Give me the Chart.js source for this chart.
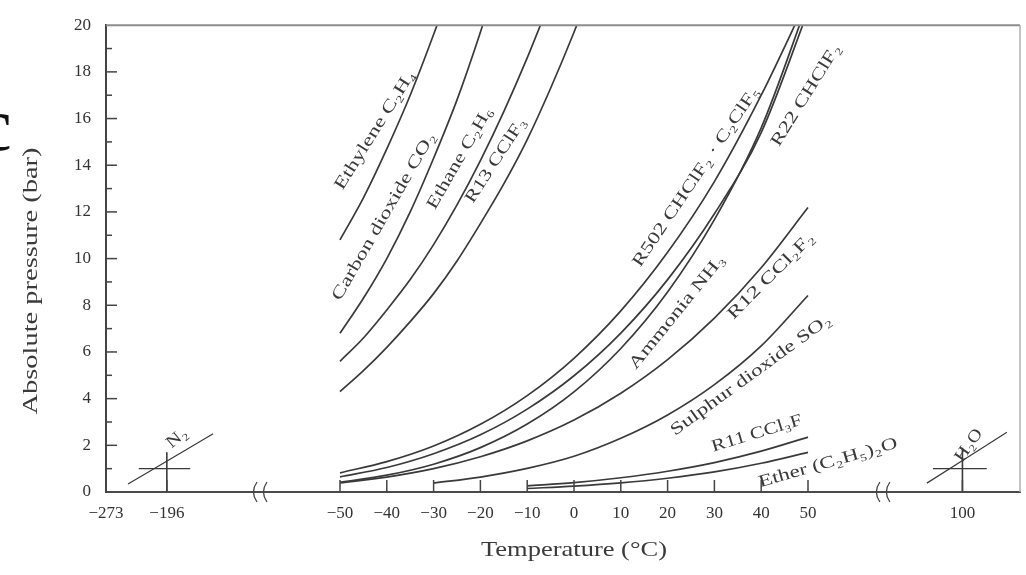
<!DOCTYPE html>
<html>
<head>
<meta charset="utf-8">
<script src="https://cdn.jsdelivr.net/npm/chart.js@4.4.0/dist/chart.umd.min.js"></script>
<style>
  html, body { margin: 0; padding: 0; background: #fff; }
</style>
</head>
<body>
<canvas id="myChart" width="1026" height="575"></canvas>
<script>
// x tick temperatures (deg C) and their labels
const tickTemps = [-273, -196, -50, -40, -30, -20, -10, 0, 10, 20, 30, 40, 50, 100];
const tickLabels = ['\u2212273', '\u2212196', '\u221250', '\u221240', '\u221230', '\u221220', '\u221210', '0', '10', '20', '30', '40', '50', '100'];

// high pressure group, every 5 deg
const ethyleneT = [-50, -45, -40, -35, -30, -25];
const ethyleneP = [10.8, 12.6, 14.7, 17.0, 19.6, 22.4];
const co2T = [-50, -45, -40, -35, -30, -25, -20, -15];
const co2P = [6.8, 8.3, 10.0, 12.0, 14.3, 16.8, 19.7, 22.9];
const ethaneT = [-50, -45, -40, -35, -30, -25, -20, -15, -10, -5];
const ethaneP = [5.6, 6.6, 7.8, 9.1, 10.6, 12.3, 14.2, 16.3, 18.6, 21.1];
const r13T = [-50, -45, -40, -35, -30, -25, -20, -15, -10, -5, 0, 5];
const r13P = [4.3, 5.2, 6.2, 7.3, 8.5, 9.9, 11.5, 13.2, 15.1, 17.3, 19.7, 22.3];

// refrigerants, every 10 deg
const lowT = [-50, -40, -30, -20, -10, 0, 10, 20, 30, 40, 50];
const r502P = [0.82, 1.30, 1.97, 2.90, 4.13, 5.73, 7.76, 10.27, 13.3, 17.0, 21.2];
const r22P = [0.65, 1.05, 1.64, 2.45, 3.55, 4.98, 6.81, 9.10, 11.92, 15.4, 20.6];
const nh3P = [0.41, 0.72, 1.19, 1.90, 2.91, 4.29, 6.15, 8.57, 11.67, 15.6, 21.0];
const r12P = [0.39, 0.64, 1.00, 1.51, 2.19, 3.08, 4.23, 5.67, 7.45, 9.61, 12.19];
const so2T = [-30, -20, -10, 0, 10, 20, 30, 40, 50];
const so2P = [0.38, 0.64, 1.01, 1.53, 2.30, 3.30, 4.60, 6.26, 8.42];
const r11T = [-10, 0, 10, 20, 30, 40, 50];
const r11P = [0.26, 0.40, 0.61, 0.89, 1.26, 1.75, 2.35];
const etherT = [-10, 0, 10, 20, 30, 40, 50];
const etherP = [0.15, 0.25, 0.39, 0.59, 0.86, 1.23, 1.70];

// nitrogen and water marks
const n2T = [-204.3, -186.1];
const n2P = [0.34, 2.5];
const n2CrossT = [-202, -191];
const n2CrossP = [0, 1.7];
const h2oT = [92.4, 109.5];
const h2oP = [0.38, 2.56];
const h2oCrossT = [93.7, 105.2];
const h2oCrossP = [0, 1.9];
const atmP = 1.0;

const curveLabels = [
    { text: 'Ethylene C\u2082H\u2084', t: -42.5, p: 15.5, angle: -58, len: 137 },
    { text: 'Carbon dioxide CO\u2082', t: -40.6, p: 11.8, angle: -60, len: 191 },
    { text: 'Ethane C\u2082H\u2086', t: -24.4, p: 14.3, angle: -60, len: 115 },
    { text: 'R13 CClF\u2083', t: -16.7, p: 14.2, angle: -57, len: 98 },
    { text: 'R502 CHClF\u2082 \u00b7 C\u2082ClF\u2085', t: 26.1, p: 13.5, angle: -56, len: 213 },
    { text: 'R22 CHClF\u2082', t: 49.6, p: 17.0, angle: -58, len: 117 },
    { text: 'Ammonia NH\u2083', t: 22.0, p: 7.7, angle: -51, len: 142 },
    { text: 'R12 CCl\u2082F\u2082', t: 42.1, p: 9.25, angle: -45, len: 115 },
    { text: 'Sulphur dioxide SO\u2082', t: 37.8, p: 5.0, angle: -36, len: 194 },
    { text: 'R11 CCl\u2083F', t: 39.1, p: 2.5, angle: -17, len: 94 },
    { text: 'Ether (C\u2082H\u2085)\u2082O', t: 54.3, p: 1.24, angle: -16, len: 144 },
    { text: 'N\u2082', t: -193.8, p: 2.3, angle: -40, len: 22 },
    { text: 'H\u2082O', t: 101.4, p: 2.0, angle: -55, len: 36 }
];

const serif = "'Liberation Serif', 'DejaVu Serif', serif";
const ink = '#3a3a3a';

// broken axis: -273 sits on the origin, -196 and 100 are pulled in
function toAxis(t) {
    if (t <= -273) return -100;
    if (t < -120) return t + 109;
    if (t > 75) return t - 17;
    return t;
}

function series(ts, ps) {
    return ts.map((t, i) => ({ x: toAxis(t), y: ps[i] }));
}

function curve(ts, ps, width) {
    return {
        data: series(ts, ps),
        showLine: true,
        borderColor: ink,
        borderWidth: width || 1.7,
        pointRadius: 0,
        cubicInterpolationMode: 'monotone',
        fill: false
    };
}

const datasets = [
    curve(ethyleneT, ethyleneP),
    curve(co2T, co2P),
    curve(ethaneT, ethaneP),
    curve(r13T, r13P),
    curve(lowT, r502P),
    curve(lowT, r22P),
    curve(lowT, nh3P),
    curve(lowT, r12P),
    curve(so2T, so2P),
    curve(r11T, r11P),
    curve(etherT, etherP),
    curve(n2T, n2P, 1.2),
    curve(n2CrossT, [atmP, atmP], 1.2),
    curve([-196, -196], n2CrossP, 1.6),
    curve(h2oT, h2oP, 1.2),
    curve(h2oCrossT, [atmP, atmP], 1.2),
    curve([100, 100], h2oCrossP, 1.6)
];

function stretchedText(ctx, text, x, y, angleDeg, size, len) {
    ctx.save();
    ctx.translate(x, y);
    ctx.rotate(angleDeg * Math.PI / 180);
    ctx.font = size + 'px ' + serif;
    const w = ctx.measureText(text).width;
    if (len) ctx.scale(len / w, 1);
    ctx.textAlign = 'center';
    ctx.textBaseline = 'middle';
    ctx.fillStyle = ink;
    ctx.fillText(text, 0, 0);
    ctx.restore();
}

const extras = {
    id: 'extras',
    afterDraw(chart) {
        const ctx = chart.ctx;
        const a = chart.chartArea;
        const xs = chart.scales.x;
        const ys = chart.scales.y;
        ctx.save();
        // top and right frame
        ctx.strokeStyle = '#8c8c8c';
        ctx.lineWidth = 2;
        ctx.beginPath();
        ctx.moveTo(a.left, a.top);
        ctx.lineTo(a.right, a.top);
        ctx.stroke();
        ctx.strokeStyle = '#b0b0b0';
        ctx.lineWidth = 1.5;
        ctx.beginPath();
        ctx.moveTo(a.right, a.top);
        ctx.lineTo(a.right, a.bottom);
        ctx.stroke();

        // inward ticks
        ctx.strokeStyle = '#444';
        ctx.lineWidth = 1.5;
        tickTemps.forEach(t => {
            const px = xs.getPixelForValue(toAxis(t));
            ctx.beginPath();
            ctx.moveTo(px, a.bottom);
            ctx.lineTo(px, a.bottom - 12);
            ctx.stroke();
        });
        for (let p = 1; p < 20; p++) {
            const py = ys.getPixelForValue(p);
            ctx.beginPath();
            ctx.moveTo(a.left, py);
            ctx.lineTo(a.left + (p % 2 === 0 ? 11 : 6), py);
            ctx.stroke();
        }

        // axis breaks
        ctx.lineWidth = 1.3;
        [-67.1, 66].forEach(u => {
            const px = xs.getPixelForValue(u);
            [-5, 5].forEach(d => {
                ctx.beginPath();
                ctx.moveTo(px + d + 2, a.bottom - 10);
                ctx.quadraticCurveTo(px + d - 5, a.bottom, px + d + 2, a.bottom + 10);
                ctx.stroke();
            });
        });
        ctx.restore();

        // curve labels
        curveLabels.forEach(l => {
            stretchedText(ctx, l.text, xs.getPixelForValue(toAxis(l.t)), ys.getPixelForValue(l.p), l.angle, 17, l.len);
        });

        // axis titles
        stretchedText(ctx, 'Temperature (\u00b0C)', xs.getPixelForValue(0), 550, 0, 21, 186);
        stretchedText(ctx, 'Absolute pressure (bar)', 31, 281, -90, 21, 267);

        // clipped glyph from the neighbouring page
        ctx.save();
        ctx.font = '76px ' + serif;
        ctx.fillStyle = '#111';
        ctx.textBaseline = 'alphabetic';
        ctx.fillText('c', -22, 150);
        ctx.restore();
    }
};

const ctx = document.getElementById('myChart').getContext('2d');
new Chart(ctx, {
    type: 'scatter',
    data: { datasets: datasets },
    options: {
        responsive: false,
        animation: false,
        devicePixelRatio: 1,
        layout: { padding: { left: 0, right: 6, top: 23, bottom: 0 } },
        plugins: { legend: { display: false }, tooltip: { enabled: false } },
        scales: {
            x: {
                type: 'linear',
                min: -100,
                max: 95.3,
                afterBuildTicks(scale) {
                    scale.ticks = tickTemps.map(t => ({ value: toAxis(t) }));
                },
                afterFit(scale) { scale.height = 83; },
                grid: { display: false, drawTicks: false },
                border: { display: true, color: '#4a4a4a', width: 2 },
                ticks: {
                    autoSkip: false,
                    maxRotation: 0,
                    padding: 11,
                    color: '#333',
                    font: { family: serif, size: 17 },
                    callback: (v, i) => tickLabels[i]
                }
            },
            y: {
                min: 0,
                max: 20,
                afterFit(scale) { scale.width = 106; },
                grid: { display: false, drawTicks: false },
                border: { display: true, color: '#444', width: 2 },
                ticks: {
                    stepSize: 2,
                    padding: 15,
                    color: '#333',
                    font: { family: serif, size: 17 }
                }
            }
        }
    },
    plugins: [extras]
});
</script>
</body>
</html>
